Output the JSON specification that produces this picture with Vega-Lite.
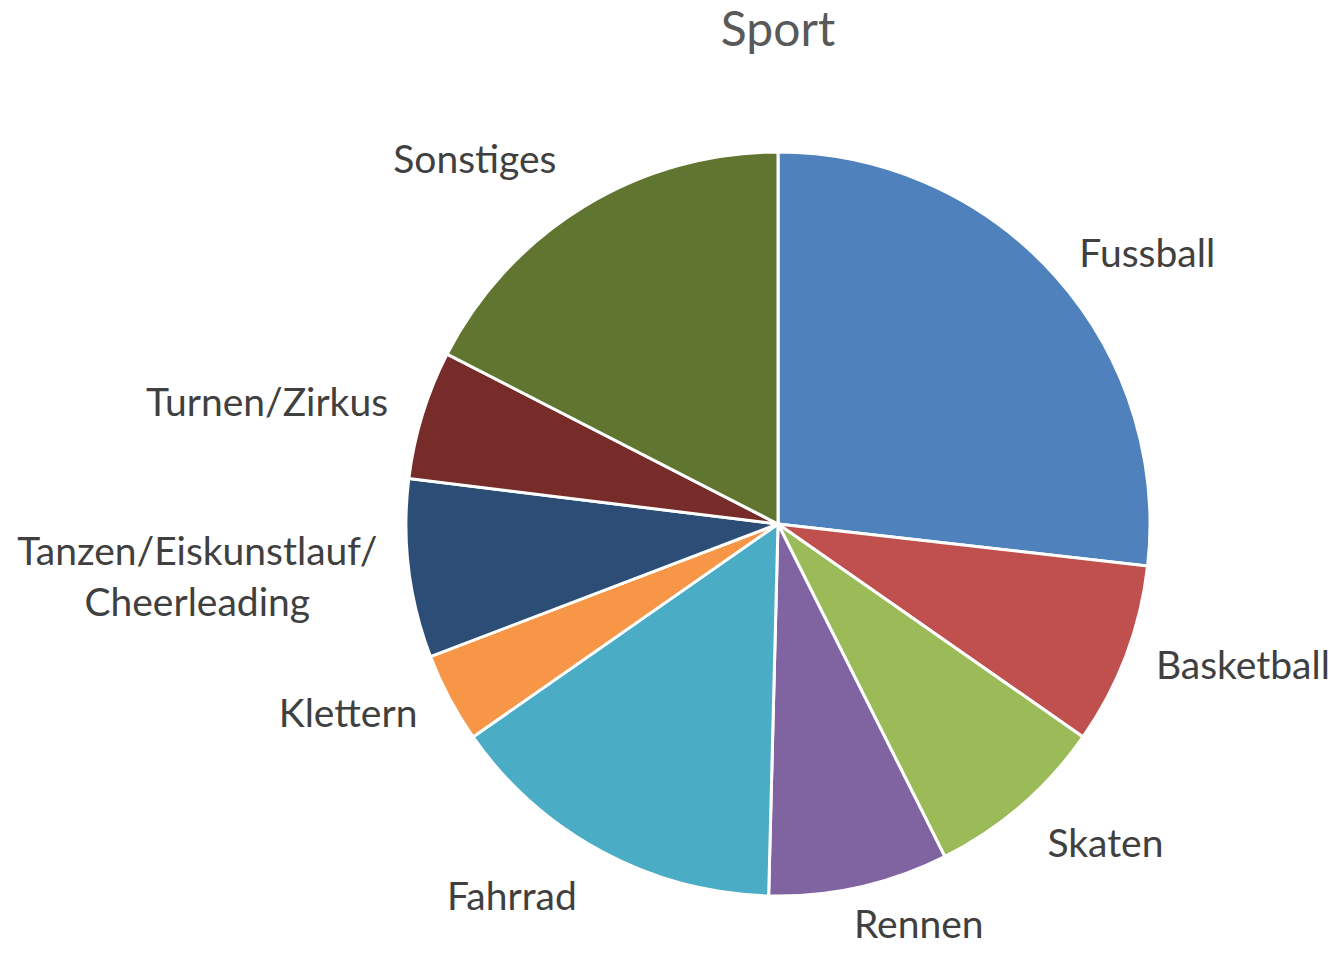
{
  "$schema": "https://vega.github.io/schema/vega-lite/v6.json",
  "width": 1116,
  "height": 864,
  "autosize": "none",
  "padding": {"left": 220, "top": 92, "right": 0, "bottom": 0},
  "background": "white",
  "config": {"view": {"stroke": null}},
  "title": {"text": "Sport", "font": "Lato", "fontSize": 48, "fontWeight": "normal", "color": "#595959", "anchor": "middle", "offset": 36},
  "data": {"values": [
    {"i": 1, "sport": "Fussball", "value": 26.8},
    {"i": 2, "sport": "Basketball", "value": 7.9},
    {"i": 3, "sport": "Skaten", "value": 7.9},
    {"i": 4, "sport": "Rennen", "value": 7.8},
    {"i": 5, "sport": "Fahrrad", "value": 14.9},
    {"i": 6, "sport": "Klettern", "value": 3.9},
    {"i": 7, "sport": "Tanzen/Eiskunstlauf/\nCheerleading", "value": 7.75},
    {"i": 8, "sport": "Turnen/Zirkus", "value": 5.6},
    {"i": 9, "sport": "Sonstiges", "value": 17.45}
  ]},
  "transform": [
    {"stack": "value", "groupby": [], "sort": [{"field": "i", "order": "ascending"}], "as": ["v0", "v1"]},
    {"calculate": "(datum.v0 + datum.v1) / 2", "as": "mid"}
  ],
  "layer": [
    {
      "mark": {"type": "arc", "outerRadius": 372, "stroke": "white", "strokeWidth": 3},
      "encoding": {
        "theta": {"field": "v0", "type": "quantitative", "scale": {"domain": [0, 100]}},
        "theta2": {"field": "v1"},
        "color": {"field": "sport", "type": "nominal", "legend": null,
          "scale": {
            "domain": ["Fussball", "Basketball", "Skaten", "Rennen", "Fahrrad", "Klettern", "Tanzen/Eiskunstlauf/\nCheerleading", "Turnen/Zirkus", "Sonstiges"],
            "range": ["#4F81BD", "#C0504D", "#9BBB59", "#8064A2", "#4BACC6", "#F79646", "#2C4D75", "#772C2A", "#5F7530"]
          }
        }
      }
    },
    {
      "transform": [{"filter": {"field": "sport", "oneOf": ["Fussball", "Basketball"]}}],
      "mark": {"type": "text", "radius": 404, "align": "left", "baseline": "middle", "font": "Lato", "fontSize": 39, "color": "#404040"},
      "encoding": {"theta": {"field": "mid", "type": "quantitative"}, "text": {"field": "sport"}}
    },
    {
      "transform": [{"filter": {"field": "sport", "equal": "Skaten"}}],
      "mark": {"type": "text", "radius": 424, "align": "left", "baseline": "middle", "dx": -8, "font": "Lato", "fontSize": 39, "color": "#404040"},
      "encoding": {"theta": {"field": "mid", "type": "quantitative"}, "text": {"field": "sport"}}
    },
    {
      "transform": [{"filter": {"field": "sport", "equal": "Rennen"}}],
      "mark": {"type": "text", "radius": 412, "align": "left", "baseline": "middle", "dx": -14, "font": "Lato", "fontSize": 39, "color": "#404040"},
      "encoding": {"theta": {"field": "mid", "type": "quantitative"}, "text": {"field": "sport"}}
    },
    {
      "transform": [{"filter": {"field": "sport", "oneOf": ["Fahrrad", "Sonstiges"]}}],
      "mark": {"type": "text", "radius": 425, "align": "right", "baseline": "middle", "font": "Lato", "fontSize": 39, "color": "#404040"},
      "encoding": {"theta": {"field": "mid", "type": "quantitative"}, "text": {"field": "sport"}}
    },
    {
      "transform": [{"filter": {"field": "sport", "oneOf": ["Klettern", "Turnen/Zirkus"]}}],
      "mark": {"type": "text", "radius": 408, "align": "right", "baseline": "middle", "font": "Lato", "fontSize": 39, "color": "#404040"},
      "encoding": {"theta": {"field": "mid", "type": "quantitative"}, "text": {"field": "sport"}}
    },
    {
      "transform": [{"filter": {"field": "i", "equal": 7}}],
      "mark": {"type": "text", "radius": 585, "align": "center", "baseline": "middle", "dy": -42, "font": "Lato", "fontSize": 39, "color": "#404040", "lineBreak": "\n", "lineHeight": 51},
      "encoding": {"theta": {"field": "mid", "type": "quantitative"}, "text": {"field": "sport"}}
    }
  ]
}
